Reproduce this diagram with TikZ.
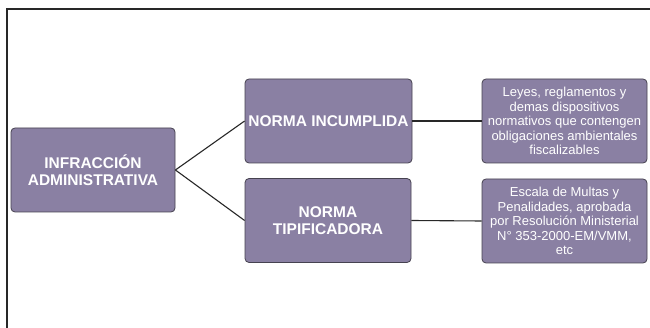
\documentclass[tikz,border=0pt]{standalone}
\usepackage{fontspec}
\setmainfont{Liberation Sans}
\definecolor{boxfill}{RGB}{138,128,163}
\definecolor{boxedge}{RGB}{70,66,80}
\definecolor{linec}{RGB}{40,40,40}
\begin{document}
\begin{tikzpicture}[x=1pt,y=-1pt,
  box/.style={draw=boxedge,line width=0.8pt,fill=boxfill,rounded corners=4pt,
    minimum width=#1,minimum height=84pt,inner sep=1pt,align=center,text=white},
  head/.style={font=\fontsize{15.5}{16.5}\selectfont\bfseries},
  body/.style={font=\fontsize{13}{14.5}\selectfont},
  conn/.style={draw=linec,line width=1.1pt}]
\useasboundingbox (0,0) rectangle (650,328);
\fill[white] (0,0) rectangle (650,328);
\draw[line width=2pt,draw=linec] (7,328) -- (7,9.5) -- (650,9.5);
\node[box=164pt,head] (A) at (93,170) {INFRACCIÓN\\ADMINISTRATIVA};
\node[box=167pt,head] (B) at (328.5,121) {NORMA INCUMPLIDA};
\node[box=166pt,head] (C) at (328,220.5) {NORMA\\TIPIFICADORA};
\node[box=165pt,body] (D) at (564.5,121) {Leyes, reglamentos y\\demas dispositivos\\normativos que contengen\\obligaciones ambientales\\fiscalizables};
\node[box=165pt,body] (E) at (564.5,221) {Escala de Multas y\\Penalidades, aprobada\\por Resolución Ministerial\\N° 353-2000-EM/VMM,\\etc};
\draw[conn] (A.east) -- (B.west);
\draw[conn] (A.east) -- (C.west);
\draw[conn] (B.east) -- (D.west);
\draw[conn] (C.east) -- (E.west);
\end{tikzpicture}
\end{document}
